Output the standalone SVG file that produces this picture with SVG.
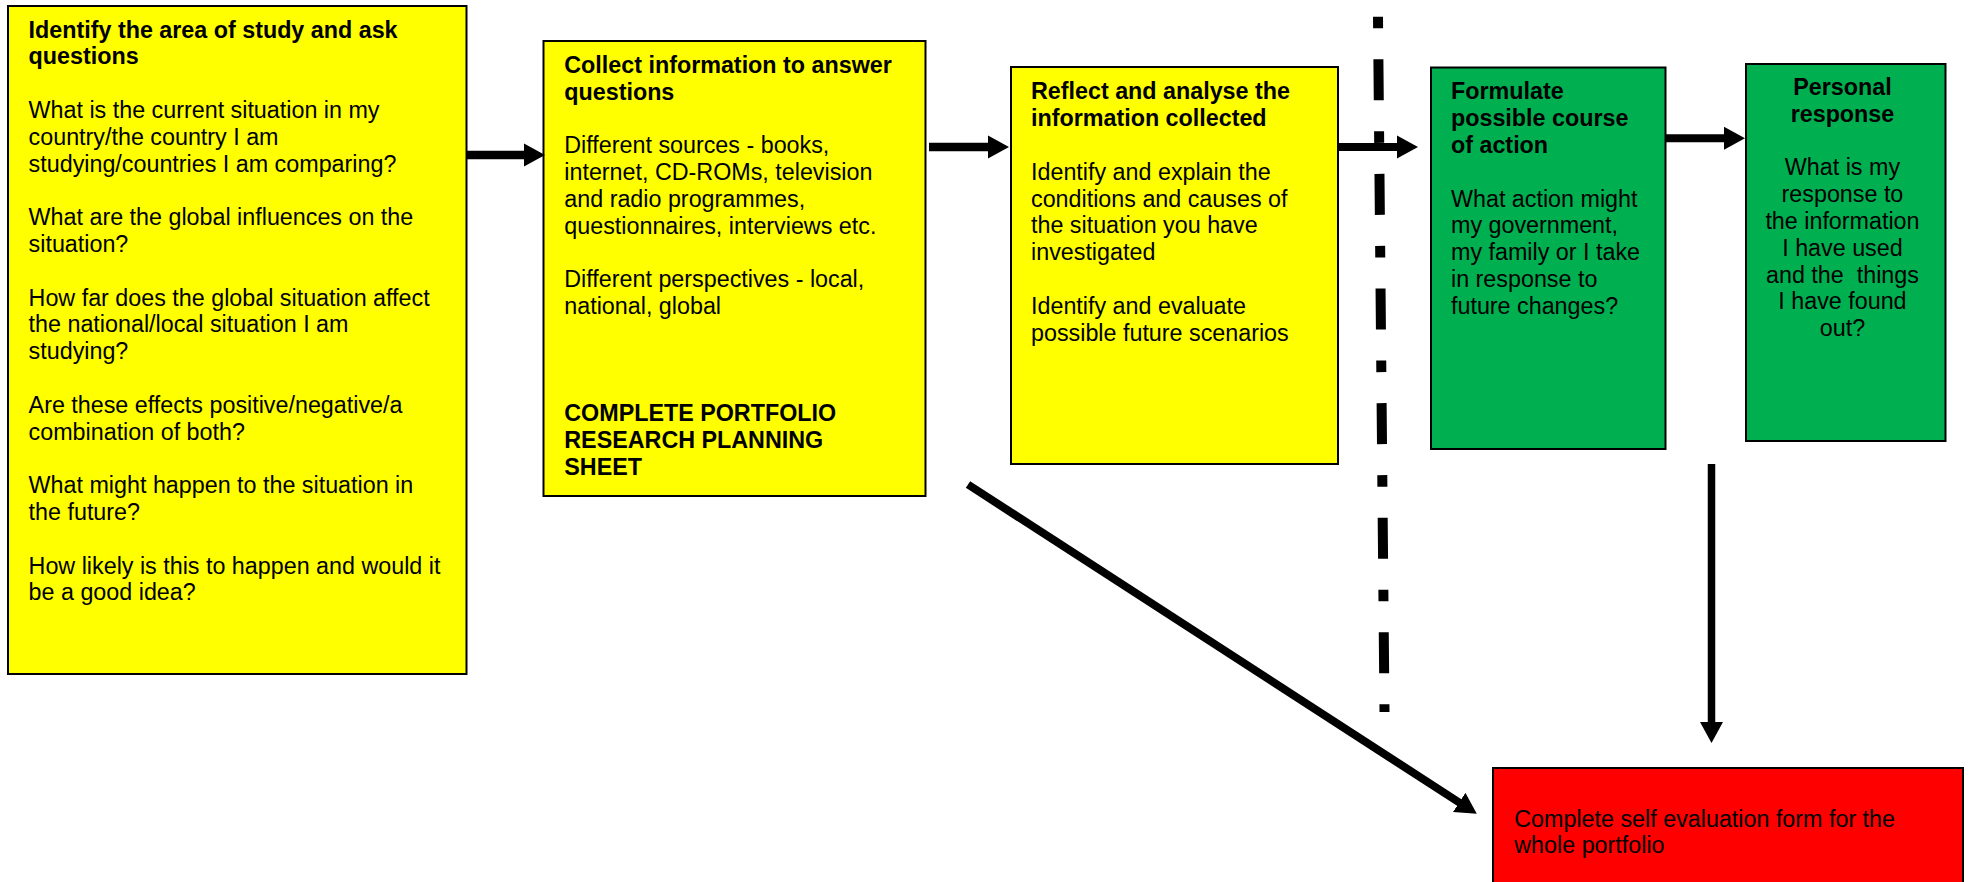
<svg xmlns="http://www.w3.org/2000/svg" width="1970" height="882" viewBox="0 0 1970 882">
<style>
.box{stroke:#000;stroke-width:2}
.y{fill:#FFFF00}
.g{fill:#00B050}
.r{fill:#FF0000}
text{font-family:"Liberation Sans",Arial,Helvetica,sans-serif;font-size:23.3px;fill:#000}
.b{font-weight:bold}
.c{text-anchor:middle}
.conn{stroke:#000;fill:none}
</style>
<defs>
<marker id="ah" viewBox="0 -12 21 24" markerWidth="21" markerHeight="24" refX="1" refY="0" orient="auto" markerUnits="userSpaceOnUse">
<path d="M0,-11.5 L21,0 L0,11.5 z" fill="#000"/>
</marker>
</defs>
<rect width="1970" height="882" fill="#fff"/>

<g id="n1">
<rect class="box y" x="8" y="6" width="458.5" height="668"/>
<text x="28.6">
<tspan class="b" x="28.6" y="37.5">Identify the area of study and ask</tspan>
<tspan class="b" x="28.6" y="64.3">questions</tspan>
<tspan x="28.6" y="117.9">What is the current situation in my</tspan>
<tspan x="28.6" y="144.7">country/the country I am</tspan>
<tspan x="28.6" y="171.5">studying/countries I am comparing?</tspan>
<tspan x="28.6" y="225.1">What are the global influences on the</tspan>
<tspan x="28.6" y="251.9">situation?</tspan>
<tspan x="28.6" y="305.5">How far does the global situation affect</tspan>
<tspan x="28.6" y="332.3">the national/local situation I am</tspan>
<tspan x="28.6" y="359.1">studying?</tspan>
<tspan x="28.6" y="412.7">Are these effects positive/negative/a</tspan>
<tspan x="28.6" y="439.5">combination of both?</tspan>
<tspan x="28.6" y="493.1">What might happen to the situation in</tspan>
<tspan x="28.6" y="519.9">the future?</tspan>
<tspan x="28.6" y="573.5">How likely is this to happen and would it</tspan>
<tspan x="28.6" y="600.3">be a good idea?</tspan>
</text>
</g>

<g id="n2">
<rect class="box y" x="543.5" y="41" width="382" height="455"/>
<text>
<tspan class="b" x="564.3" y="72.7">Collect information to answer</tspan>
<tspan class="b" x="564.3" y="99.5">questions</tspan>
<tspan x="564.3" y="153.1">Different sources - books,</tspan>
<tspan x="564.3" y="179.9">internet, CD-ROMs, television</tspan>
<tspan x="564.3" y="206.7">and radio programmes,</tspan>
<tspan x="564.3" y="233.5">questionnaires, interviews etc.</tspan>
<tspan x="564.3" y="287.1">Different perspectives - local,</tspan>
<tspan x="564.3" y="313.9">national, global</tspan>
<tspan class="b" x="564.3" y="421.1">COMPLETE PORTFOLIO</tspan>
<tspan class="b" x="564.3" y="447.9">RESEARCH PLANNING</tspan>
<tspan class="b" x="564.3" y="474.7">SHEET</tspan>
</text>
</g>

<g id="n3">
<rect class="box y" x="1011" y="67" width="327" height="397"/>
<text>
<tspan class="b" x="1031" y="99.3">Reflect and analyse the</tspan>
<tspan class="b" x="1031" y="126.1">information collected</tspan>
<tspan x="1031" y="179.7">Identify and explain the</tspan>
<tspan x="1031" y="206.5">conditions and causes of</tspan>
<tspan x="1031" y="233.3">the situation you have</tspan>
<tspan x="1031" y="260.1">investigated</tspan>
<tspan x="1031" y="313.7">Identify and evaluate</tspan>
<tspan x="1031" y="340.5">possible future scenarios</tspan>
</text>
</g>

<g id="n4">
<rect class="box g" x="1431" y="67.5" width="234.5" height="381.5"/>
<text>
<tspan class="b" x="1451" y="99.3">Formulate</tspan>
<tspan class="b" x="1451" y="126.1">possible course</tspan>
<tspan class="b" x="1451" y="152.9">of action</tspan>
<tspan x="1451" y="206.5">What action might</tspan>
<tspan x="1451" y="233.3">my government,</tspan>
<tspan x="1451" y="260.1">my family or I take</tspan>
<tspan x="1451" y="286.9">in response to</tspan>
<tspan x="1451" y="313.7">future changes?</tspan>
</text>
</g>

<g id="n5">
<rect class="box g" x="1746" y="64" width="199.5" height="377"/>
<text class="c" xml:space="preserve">
<tspan class="b" x="1845.7" y="95">Personal</tspan>
<tspan class="b" x="1845.7" y="121.8">response</tspan>
<tspan x="1845.7" y="175.4">What is my</tspan>
<tspan x="1845.7" y="202.2">response to</tspan>
<tspan x="1845.7" y="229">the information</tspan>
<tspan x="1845.7" y="255.8">I have used</tspan>
<tspan x="1845.7" y="282.6">and the  things</tspan>
<tspan x="1845.7" y="309.4">I have found</tspan>
<tspan x="1845.7" y="336.2">out?</tspan>
</text>
</g>

<g id="n6">
<rect class="box r" x="1493" y="768" width="470" height="130"/>
<text>
<tspan x="1514.3" y="827.3">Complete self evaluation form for the</tspan>
<tspan x="1514.3" y="853.3">whole portfolio</tspan>
</text>
</g>

<g id="connectors">
<line class="conn" x1="466" y1="155" x2="525" y2="155" stroke-width="8.5" marker-end="url(#ah)"/>
<line class="conn" x1="929" y1="147" x2="989" y2="147" stroke-width="8.5" marker-end="url(#ah)"/>
<line class="conn" x1="1338" y1="147" x2="1398" y2="147" stroke-width="8" marker-end="url(#ah)"/>
<line class="conn" x1="1665" y1="138.3" x2="1725" y2="138.3" stroke-width="8" marker-end="url(#ah)"/>
<line class="conn" x1="1711.5" y1="464" x2="1711.5" y2="723" stroke-width="7.5" marker-end="url(#ah)"/>
<line class="conn" x1="968" y1="484.5" x2="1460" y2="803" stroke-width="8" marker-end="url(#ah)"/>
<line class="conn" x1="1378" y1="16.7" x2="1384.5" y2="712" stroke-width="10" stroke-dasharray="11.6 31 41 31"/>
</g>
</svg>
